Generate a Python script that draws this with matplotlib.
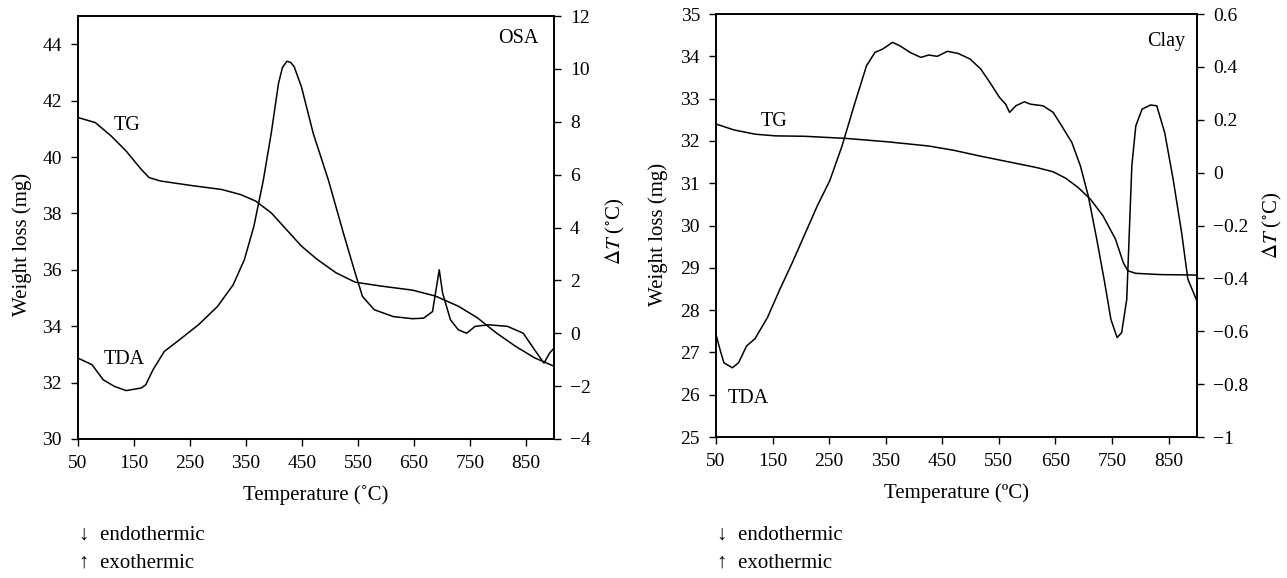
"""TG / DTA curves for OSA and clay, two panels side by side. Writes out.png."""
import matplotlib
matplotlib.use('Agg')
import matplotlib.pyplot as plt

plt.rcParams['font.family'] = ['Liberation Serif', 'DejaVu Serif']
plt.rcParams['mathtext.fontset'] = 'stix'

TICK_FS, LABEL_FS, TEXT_FS = 14, 15, 14.5

# ---- OSA (left panel) ----
osa_tg_T = [50, 81, 109, 136, 163, 177, 197, 252, 306, 340, 367, 395, 422, 449, 477,
            511, 545, 592, 647, 688, 729, 763, 797, 831, 865, 900]
osa_tg_m = [41.40, 41.22, 40.75, 40.21, 39.56, 39.27, 39.15, 38.99, 38.85, 38.67, 38.44,
            38.02, 37.43, 36.84, 36.37, 35.89, 35.56, 35.42, 35.28, 35.07, 34.71, 34.30,
            33.76, 33.29, 32.88, 32.58]
osa_dta_T = [50, 75, 95, 115, 136, 163, 171, 184, 204, 231, 265, 299, 327, 347, 364, 381,
             395, 408, 415, 423, 430, 436, 449, 470, 497, 524, 545, 558, 579, 613, 647,
             667, 683, 695, 701, 715, 729, 744, 759, 783, 817, 845, 865, 882, 892, 900]
osa_dta_dT = [-0.94, -1.19, -1.76, -2.01, -2.17, -2.07, -1.95, -1.38, -0.69, -0.25, 0.32,
              1.01, 1.83, 2.78, 4.04, 5.80, 7.56, 9.45, 10.05, 10.29, 10.24, 10.08, 9.32,
              7.56, 5.80, 3.78, 2.27, 1.39, 0.89, 0.63, 0.55, 0.57, 0.82, 2.40, 1.52,
              0.51, 0.13, 0.00, 0.26, 0.32, 0.26, 0.00, -0.62, -1.13, -0.75, -0.56]

# ---- Clay (right panel) ----
clay_tg_T = [50, 82, 119, 155, 207, 280, 353, 426, 470, 514, 573, 617, 646, 668, 690,
             712, 734, 756, 770, 778, 792, 836, 900]
clay_tg_m = [32.40, 32.26, 32.16, 32.12, 32.11, 32.06, 31.98, 31.88, 31.78, 31.65, 31.49,
             31.37, 31.27, 31.12, 30.90, 30.62, 30.23, 29.68, 29.12, 28.93, 28.87, 28.84,
             28.83]
clay_dta_T = [50, 57, 64, 79, 90, 104, 119, 141, 163, 185, 207, 229, 251, 273, 294, 316,
              331, 345, 362, 375, 393, 412, 426, 441, 459, 478, 499, 518, 536, 551, 562,
              569, 580, 595, 606, 628, 646, 661, 679, 694, 708, 723, 737, 748, 759, 767,
              776, 785, 792, 803, 818, 829, 843, 858, 873, 884, 900]
clay_dta_dT = [-0.611, -0.668, -0.719, -0.738, -0.719, -0.656, -0.628, -0.548, -0.441,
               -0.340, -0.233, -0.126, -0.031, 0.102, 0.253, 0.404, 0.455, 0.468, 0.493,
               0.480, 0.455, 0.436, 0.445, 0.440, 0.459, 0.451, 0.430, 0.392, 0.335,
               0.285, 0.259, 0.228, 0.253, 0.268, 0.259, 0.253, 0.228, 0.177, 0.114,
               0.026, -0.088, -0.252, -0.416, -0.555, -0.624, -0.605, -0.479, 0.026,
               0.177, 0.240, 0.256, 0.253, 0.152, -0.025, -0.227, -0.403, -0.485]

xticks = list(range(50, 851, 100))

fig = plt.figure(figsize=(12.87, 5.78), dpi=100)


def panel(rect, tg_T, tg_m, dta_T, dta_dT, ylim, yticks, y2lim, y2ticks, y2fmt,
          xlabel, ylab_xy, y2lab_xy, name, name_xy, tg_xy, tda_xy):
    ax = fig.add_axes(rect)
    ax2 = ax.twinx()
    ax.plot(tg_T, tg_m, color='k', lw=1.1)
    ax2.plot(dta_T, dta_dT, color='k', lw=1.1)
    ax.set_xlim(50, 900); ax.set_ylim(*ylim); ax2.set_ylim(*y2lim)
    ax.set_xticks(xticks); ax.set_yticks(yticks); ax2.set_yticks(y2ticks)
    ax2.set_yticklabels([y2fmt(v) for v in y2ticks])
    for a in (ax, ax2):
        for s in a.spines.values():
            s.set_linewidth(1.2)
        a.tick_params(direction='out', length=5, width=1.0, labelsize=TICK_FS, pad=6.5)
    ax.set_xlabel(xlabel, fontsize=LABEL_FS, va='center')
    ax.xaxis.set_label_coords(0.5, -0.132)
    ax.set_ylabel('Weight loss (mg)', fontsize=LABEL_FS, va='center')
    ax.yaxis.set_label_coords(*ylab_xy)
    ax2.set_ylabel(r'$\Delta T$ ($^{\circ}$C)', fontsize=LABEL_FS, va='center')
    ax2.yaxis.set_label_coords(*y2lab_xy)
    ax.text(*name_xy, name, transform=ax.transAxes, ha='right', va='center', fontsize=TEXT_FS)
    ax.text(*tg_xy, 'TG', transform=ax.transAxes, ha='left', va='center', fontsize=TEXT_FS)
    ax.text(*tda_xy, 'TDA', transform=ax.transAxes, ha='left', va='center', fontsize=TEXT_FS)
    return ax


def fmt_int(v):
    return ('\u2212%d' % -v) if v < 0 else '%d' % v


def fmt_dec(v):
    if v == -1:
        return '\u22121'
    if abs(v) < 1e-9:
        return '0'
    return ('\u2212%.1f' % -v) if v < 0 else '%.1f' % v


panel([0.0606, 0.2405, 0.3699, 0.7318], osa_tg_T, osa_tg_m, osa_dta_T, osa_dta_dT,
      (30, 45), list(range(30, 45, 2)), (-4, 12), list(range(-4, 13, 2)), fmt_int,
      'Temperature (\u02daC)', (-0.118, 0.46), (1.128, 0.49),
      'OSA', (0.967, 0.948), (0.074, 0.742), (0.053, 0.187))

panel([0.5563, 0.2439, 0.3737, 0.7318], clay_tg_T, clay_tg_m, clay_dta_T, clay_dta_dT,
      (25, 35), list(range(25, 36)), (-1, 0.6), [-1, -0.8, -0.6, -0.4, -0.2, 0, 0.2, 0.4, 0.6],
      fmt_dec, 'Temperature (\u00baC)', (-0.121, 0.48), (1.158, 0.5),
      'Clay', (0.975, 0.936), (0.094, 0.747), (0.025, 0.092))

for x0 in (0.061, 0.557):
    fig.text(x0, 1 - 535 / 578, '\u2193  endothermic', fontsize=LABEL_FS, va='center', ha='left')
    fig.text(x0, 1 - 563 / 578, '\u2191  exothermic', fontsize=LABEL_FS, va='center', ha='left')

fig.savefig('out.png', dpi=100)
